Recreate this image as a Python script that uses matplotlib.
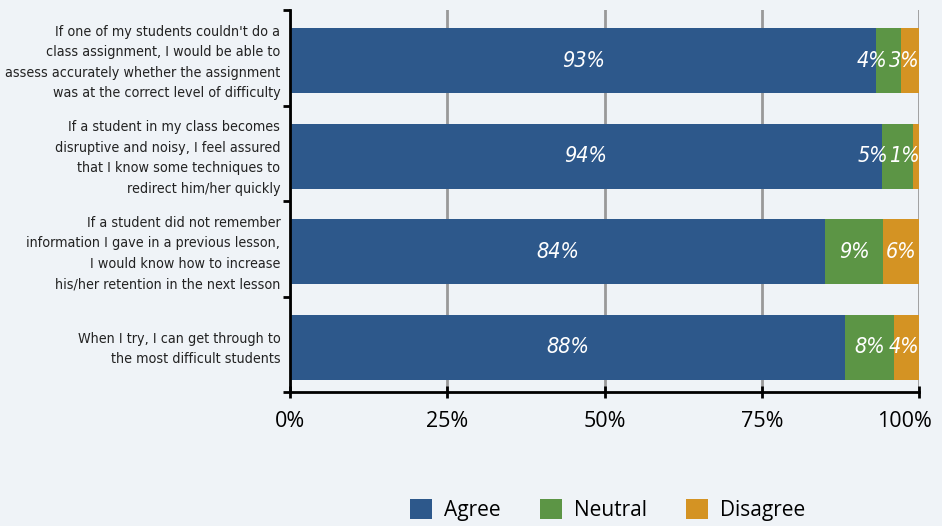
import numpy as np
import matplotlib
matplotlib.use("Agg")
import matplotlib.pyplot as plt
from matplotlib import font_manager
from matplotlib.font_manager import FontProperties
from matplotlib.patches import Patch
from matplotlib.ticker import FixedLocator
from matplotlib.transforms import ScaledTranslation

# statements (top to bottom)
statements = [
    "If one of my students couldn't do a\nclass assignment, I would be able to\nassess accurately whether the assignment\nwas at the correct level of difficulty",
    "If a student in my class becomes\ndisruptive and noisy, I feel assured\nthat I know some techniques to\nredirect him/her quickly",
    "If a student did not remember\ninformation I gave in a previous lesson,\nI would know how to increase\nhis/her retention in the next lesson",
    "When I try, I can get through to\nthe most difficult students",
]
series = ["Agree", "Neutral", "Disagree"]

# segment widths
agree = [93.2, 94.1, 85.1, 88.2]
neutral = [3.9, 4.9, 9.2, 7.8]
disagree = [2.9, 1.0, 5.7, 4.0]

# printed labels
agree_lbl = [93, 94, 84, 88]
neutral_lbl = [4, 5, 9, 8]
disagree_lbl = [3, 1, 6, 4]

colors = ["#2D588B", "#5C9545", "#D49323"]
bg = "#EFF3F7"


# look for a narrow font for the statements, fall back to Roboto
def narrow_font(size, style="normal"):
    narrow = None
    for f in font_manager.fontManager.ttflist:
        if f.style != style:
            continue
        if "Narrow" in f.name or "Condensed" in f.name or f.stretch in ("condensed", "semi-condensed"):
            if f.weight in (400, "normal", "regular", "book"):
                narrow = f.fname
                break
    if narrow:
        return FontProperties(fname=narrow, size=size), True
    return FontProperties(family=["Roboto", "DejaVu Sans"], size=size * 0.88, style=style), False


ylab_fp, is_narrow = narrow_font(10.3)
pct_fp, found = narrow_font(15.5, "oblique")
if not found:
    pct_fp, found = narrow_font(15.5, "italic")
tick_fp = FontProperties(family=["Open Sans", "DejaVu Sans"], size=15.5)

fig = plt.figure(figsize=(9.42, 5.26), dpi=100, facecolor=bg)
ax = fig.add_axes([290 / 942, 1 - 392 / 526, 629 / 942, 382 / 526])
ax.set_facecolor(bg)

y = np.arange(len(statements))
left = np.zeros(len(statements))
for vals, col in zip([agree, neutral, disagree], colors):
    ax.barh(y + 0.03, vals, left=left, height=0.68, color=col, zorder=3)
    left += np.array(vals)

# value labels
for i in range(len(statements)):
    a, n, d = agree[i], neutral[i], disagree[i]
    xa = a / 2
    xd = min(a + n + d / 2, 97.6)
    xn = min(a + n / 2, xd - 5.0)
    for xx, v in zip([xa, xn, xd], [agree_lbl[i], neutral_lbl[i], disagree_lbl[i]]):
        ax.text(xx, i + 0.03, f"{v}%", color="white", ha="center", va="center",
                fontproperties=pct_fp, zorder=4)

ax.set_xlim(0, 100)
ax.set_ylim(len(statements) - 0.5, -0.5)
ax.set_xticks([0, 25, 50, 75, 100])
ax.set_xticklabels(["0%", "25%", "50%", "75%", "100%"], fontproperties=tick_fp)
ax.tick_params(axis="x", direction="inout", length=9, width=2, color="black", pad=9)
# last label pulled in so it stays inside the figure
last = ax.get_xticklabels()[-1]
last.set_transform(last.get_transform() + ScaledTranslation(-0.15, 0, fig.dpi_scale_trans))

ax.set_yticks(y)
ax.set_yticklabels(statements, fontproperties=ylab_fp, color="#222222", linespacing=1.6)
ax.yaxis.set_minor_locator(FixedLocator(np.arange(-0.5, len(statements), 1.0)))
ax.tick_params(axis="y", which="major", length=0, pad=7)
ax.tick_params(axis="y", which="minor", direction="out", length=5, width=2, color="black")

ax.grid(axis="x", color="#999999", linewidth=2, zorder=0)
for s in ["top", "right"]:
    ax.spines[s].set_visible(False)
for s in ["left", "bottom"]:
    ax.spines[s].set_linewidth(2)
    ax.spines[s].set_color("black")
    ax.spines[s].set_zorder(5)

handles = [Patch(facecolor=c, label=s) for c, s in zip(colors, series)]
fig.legend(handles=handles, loc="center", bbox_to_anchor=(0.645, 0.03), ncol=3,
           frameon=False, handlelength=1.05, handleheight=1.05,
           columnspacing=1.9, handletextpad=0.58,
           prop={"family": ["Open Sans", "DejaVu Sans"], "size": 15})

fig.savefig("out.png", dpi=100, facecolor=bg)
